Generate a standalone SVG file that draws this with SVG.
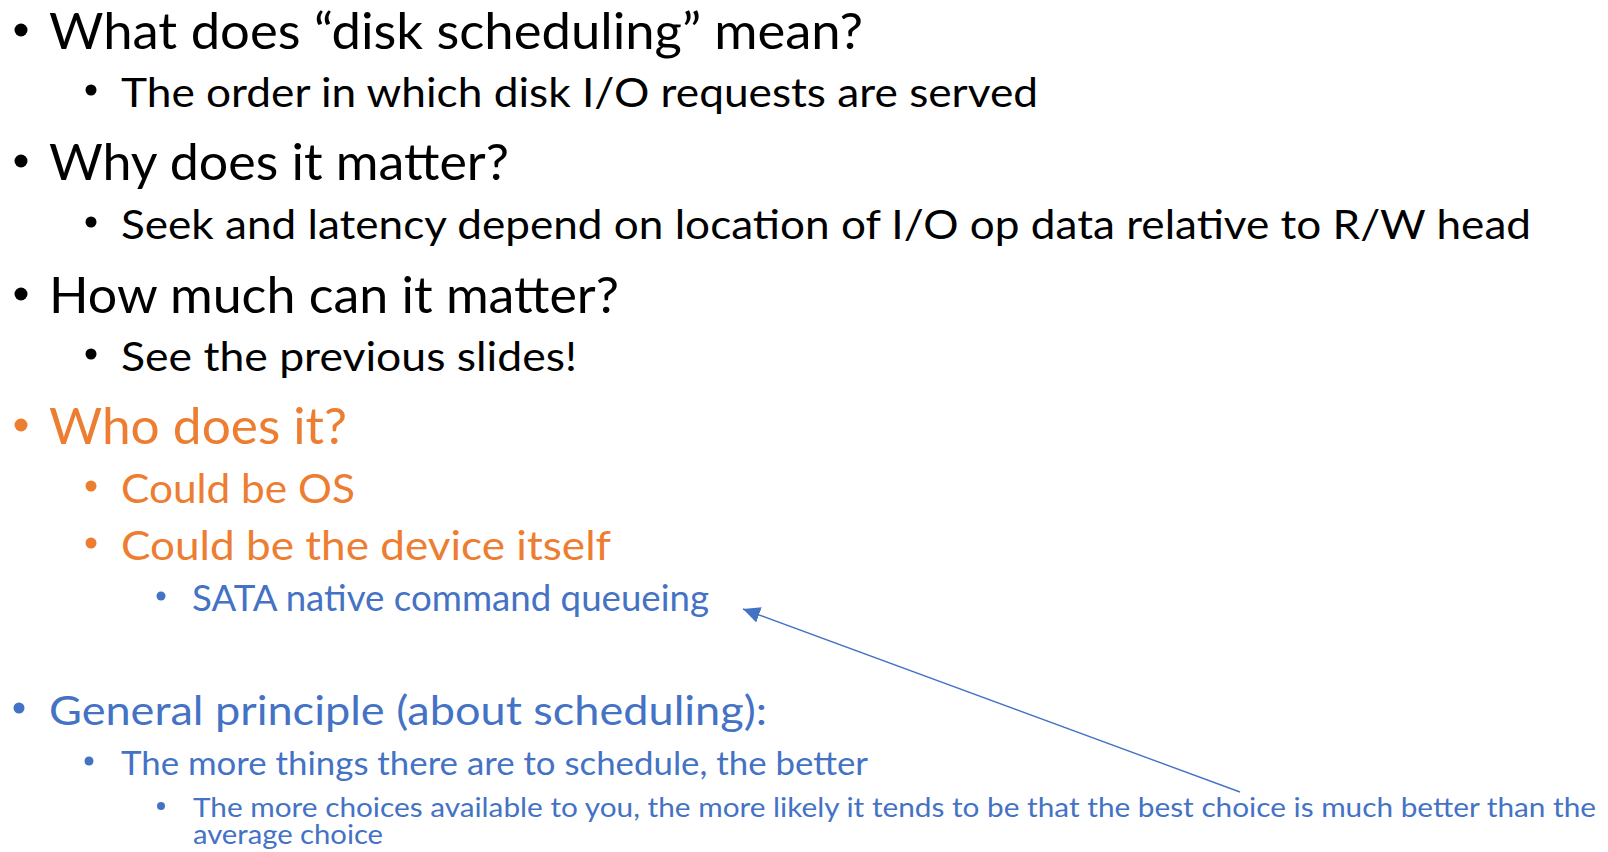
<svg xmlns="http://www.w3.org/2000/svg" width="1608" height="852" viewBox="0 0 1608 852">
  <style>
    text { font-family: Lato, "Open Sans", "Liberation Sans", sans-serif; }
    .k { fill: #000000; }
    .o { fill: #ED7D31; }
    .b { fill: #4472C4; }
    .l1 { font-size: 50px; }
    .l2 { font-size: 41.5px; }
    .l3 { font-size: 36px; }
    .g1 { font-size: 41.5px; }
    .g2 { font-size: 33px; }
    .g3 { font-size: 27.5px; }
    .conn { stroke: #4472C4; stroke-width: 1.4; fill: none; }
  </style>
  <defs>
    <marker id="ah" markerUnits="userSpaceOnUse" markerWidth="20" markerHeight="18" refX="17" refY="8" orient="auto">
      <path d="M0,0 L17,8 L0,16 Z" fill="#4472C4"/>
    </marker>
  </defs>
  <rect width="1608" height="852" fill="#ffffff"/>

  <g id="q1">
    <circle cx="21" cy="30" r="6.5" class="k"/>
    <text x="49" y="49" class="k l1" textLength="814" lengthAdjust="spacingAndGlyphs">What does “disk scheduling” mean?</text>
  </g>
  <g id="a1">
    <circle cx="91" cy="90" r="5.5" class="k"/>
    <text x="121" y="107" class="k l2" textLength="917" lengthAdjust="spacingAndGlyphs">The order in which disk I/O requests are served</text>
  </g>
  <g id="q2">
    <circle cx="21" cy="161" r="6.5" class="k"/>
    <text x="49" y="180" class="k l1" textLength="460" lengthAdjust="spacingAndGlyphs">Why does it matter?</text>
  </g>
  <g id="a2">
    <circle cx="91" cy="222" r="5.5" class="k"/>
    <text x="121" y="239" class="k l2" textLength="1410" lengthAdjust="spacingAndGlyphs">Seek and latency depend on location of I/O op data relative to R/W head</text>
  </g>
  <g id="q3">
    <circle cx="21" cy="294" r="6.5" class="k"/>
    <text x="49" y="313" class="k l1" textLength="570" lengthAdjust="spacingAndGlyphs">How much can it matter?</text>
  </g>
  <g id="a3">
    <circle cx="91" cy="354" r="5.5" class="k"/>
    <text x="121" y="371" class="k l2" textLength="456" lengthAdjust="spacingAndGlyphs">See the previous slides!</text>
  </g>
  <g id="q4">
    <circle cx="21" cy="425" r="6.5" class="o"/>
    <text x="49" y="444" class="o l1" textLength="298" lengthAdjust="spacingAndGlyphs">Who does it?</text>
  </g>
  <g id="a4a">
    <circle cx="91" cy="486" r="5.5" class="o"/>
    <text x="121" y="503" class="o l2" textLength="234" lengthAdjust="spacingAndGlyphs">Could be OS</text>
  </g>
  <g id="a4b">
    <circle cx="91" cy="543" r="5.5" class="o"/>
    <text x="121" y="560" class="o l2" textLength="490" lengthAdjust="spacingAndGlyphs">Could be the device itself</text>
  </g>
  <g id="sata">
    <circle cx="161" cy="596" r="4.5" class="b"/>
    <text x="192" y="611" class="b l3" textLength="517" lengthAdjust="spacingAndGlyphs">SATA native command queueing</text>
  </g>
  <g id="general">
    <circle cx="19" cy="708" r="5.5" class="b"/>
    <text x="49" y="725" class="b g1" textLength="718" lengthAdjust="spacingAndGlyphs">General principle (about scheduling):</text>
  </g>
  <g id="more-things">
    <circle cx="89" cy="761" r="4.5" class="b"/>
    <text x="121" y="775" class="b g2" textLength="747" lengthAdjust="spacingAndGlyphs">The more things there are to schedule, the better</text>
  </g>
  <g id="more-choices">
    <circle cx="161" cy="806" r="4" class="b"/>
    <text x="193" y="817" class="b g3" textLength="1403" lengthAdjust="spacingAndGlyphs">The more choices available to you, the more likely it tends to be that the best choice is much better than the</text>
    <text x="193" y="844" class="b g3" textLength="190" lengthAdjust="spacingAndGlyphs">average choice</text>
  </g>

  <g id="connectors">
    <line class="conn" x1="1240" y1="792" x2="743" y2="609" marker-end="url(#ah)"/>
  </g>
</svg>
